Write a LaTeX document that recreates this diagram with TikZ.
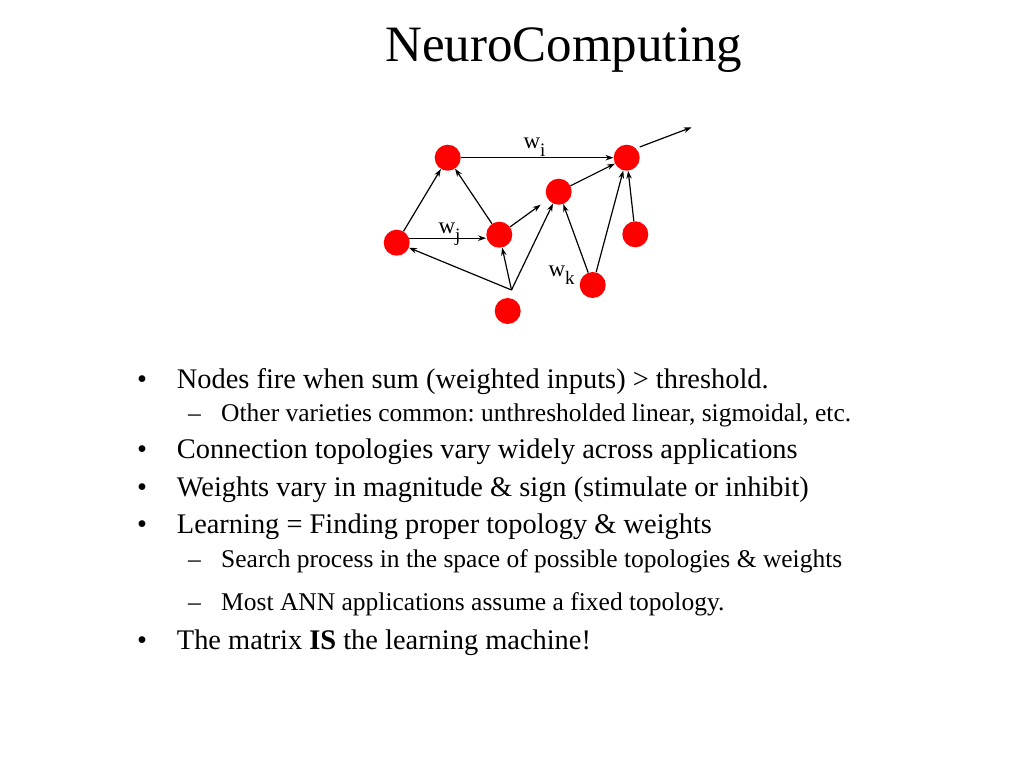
\documentclass[tikz,border=0pt]{standalone}
\usepackage{fontspec}
\setmainfont{Liberation Serif}
\usetikzlibrary{arrows.meta}
\frenchspacing

\tikzset{
  neuron/.style={circle, fill=red, minimum size=26pt, inner sep=0pt},
  link/.style={-{Stealth[length=8pt,width=5.5pt]}, line width=1.2pt},
  wlabel/.style={anchor=base west, inner sep=0pt, font=\fontsize{23}{24}\selectfont},
  bigtext/.style={anchor=base west, inner sep=0pt, font=\fontsize{28.4}{32}\selectfont},
  subtext/.style={anchor=base west, inner sep=0pt, font=\fontsize{25.5}{29}\selectfont}
}
\newcommand{\wsub}[1]{w\raisebox{-8pt}{\fontsize{19}{20}\selectfont #1}}

\begin{document}
\begin{tikzpicture}[x=1pt, y=-1pt]
    \useasboundingbox (0,0) rectangle (1024,768);

    % Title
    \node (title) at (385,61.7) [anchor=base west, inner sep=0pt, font=\fontsize{51}{56}\selectfont] {NeuroComputing};

    % The neurons
    \node[neuron] (a) at (447.7,157.7) {};
    \node[neuron] (b) at (626.7,157.7) {};
    \node[neuron] (c) at (558.7,191.7) {};
    \node[neuron] (d) at (396.7,242.7) {};
    \node[neuron] (e) at (499.3,234.7) {};
    \node[neuron] (f) at (635.3,234.3) {};
    \node[neuron] (g) at (507.7,311) {};
    \node[neuron] (h) at (592.7,285) {};
    \coordinate (out) at (691.7,127.3);
    \coordinate (gfork) at (511.5,290);

    % The connections
    \draw[link] (a) -- (b);
    \draw[link, shorten <=4pt] (b.45) -- (out);
    \draw[link] (c) -- (b);
    \draw[link] (d) -- (a);
    \draw[link] (e) -- (a);
    \draw[link, shorten >=9pt] (e) -- (c);
    \draw[link] (d.20) -- (d.20 -| e.west);
    \draw[link] (gfork) -- (d);
    \draw[link] (gfork) -- (e);
    \draw[link] (gfork) -- (c);
    \draw[link] (h) -- (c);
    \draw[link] (h) -- (b);
    \draw[link] (f) -- (b);

    % The weights
    \node[wlabel] (wi) at (523.3,148.5) {\wsub{i}};
    \node[wlabel] (wj) at (438.3,233.3) {\wsub{j}};
    \node[wlabel] (wk) at (548.3,276.7) {\wsub{k}};

    % The bullets
    \node[bigtext] (b1) at (137,388) {•};
    \node[bigtext] (t1) at (176.7,388) {Nodes fire when sum (weighted inputs) > threshold.};
    \node[subtext] (s1) at (188,421.7) {–};
    \node[subtext] (u1) at (221,421.7) {Other varieties common: unthresholded linear, sigmoidal, etc.};
    \node[bigtext] (b2) at (137,458.3) {•};
    \node[bigtext] (t2) at (176.7,458.3) {Connection topologies vary widely across applications};
    \node[bigtext] (b3) at (137,496.7) {•};
    \node[bigtext] (t3) at (176.7,496.7) {Weights vary in magnitude \& sign (stimulate or inhibit)};
    \node[bigtext] (b4) at (137,533.3) {•};
    \node[bigtext] (t4) at (176.7,533.3) {Learning = Finding proper topology \& weights};
    \node[subtext] (s2) at (188,567.3) {–};
    \node[subtext] (u2) at (221,567.3) {Search process in the space of possible topologies \& weights};
    \node[subtext] (s3) at (188,610.7) {–};
    \node[subtext] (u3) at (221,610.7) {Most ANN applications assume a fixed topology.};
    \node[bigtext] (b5) at (137,649.3) {•};
    \node[bigtext] (t5) at (176.7,649.3) {The matrix \textbf{IS} the learning machine!};

\end{tikzpicture}
\end{document}
